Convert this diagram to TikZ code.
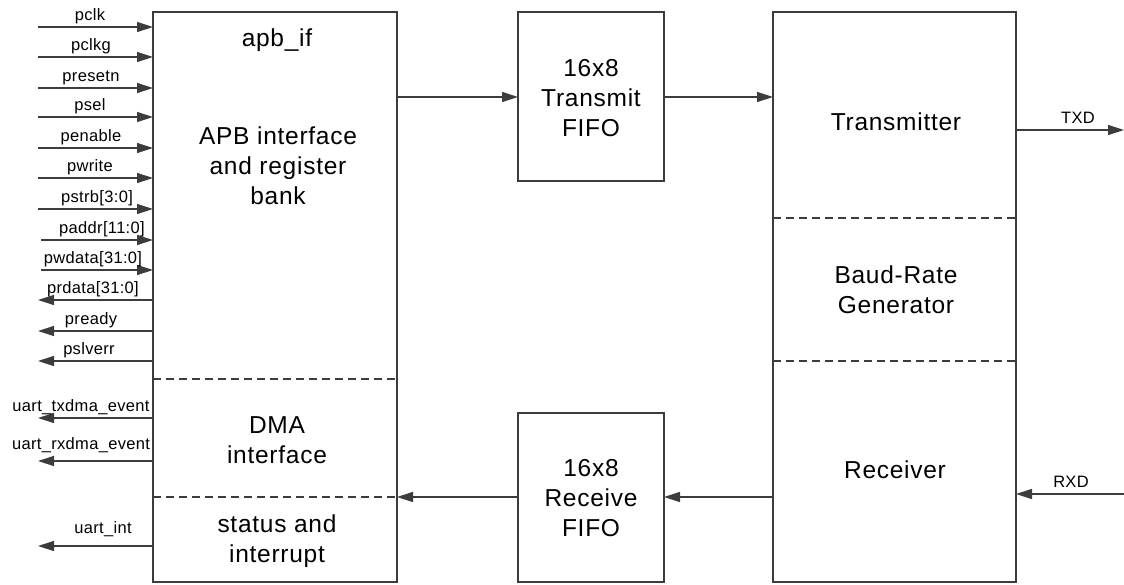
\documentclass[tikz,border=0pt]{standalone}
\usepackage{fontspec}
\setmainfont{Liberation Sans}
\newfontfamily\bigfont[LetterSpace=3]{Liberation Sans}
\newfontfamily\smallfont[LetterSpace=2]{Liberation Sans}
\usetikzlibrary{arrows.meta,calc}
\definecolor{ln}{HTML}{3C3C3C}
\begin{document}
\begin{tikzpicture}[x=1pt,y=-1pt,
  blk/.style={draw=ln,line width=1.1pt,fill=white,inner sep=0pt,outer sep=0pt},
  big/.style={align=center,font=\bigfont\fontsize{24.5}{30}\selectfont,inner sep=0pt},
  lbl/.style={font=\smallfont\fontsize{16.5}{18}\selectfont,inner sep=0pt},
  sig/.style={draw=ln,line width=1.3pt,-{Triangle[length=16pt,width=10pt]}},
  sep/.style={draw=ln,line width=1.1pt,dash pattern=on 8pt off 5pt}]
\useasboundingbox (0,0) rectangle (1124,584);
% blocks
\node[blk,minimum width=244pt,minimum height=570pt] (apb) at (275,297) {};
\node[blk,minimum width=146pt,minimum height=169pt] (txf) at (591,96.5) {};
\node[blk,minimum width=146pt,minimum height=169pt] (rxf) at (591,497.5) {};
\node[blk,minimum width=243pt,minimum height=570pt] (uart) at (894.5,297) {};
% separators
\coordinate (a1) at (153,379); \coordinate (a2) at (153,497);
\draw[sep] (a1) -- (a1 -| apb.east);
\draw[sep] (a2) -- (a2 -| apb.east);
\coordinate (u1) at (773,218); \coordinate (u2) at (773,361);
\draw[sep] (u1) -- (u1 -| uart.east);
\draw[sep] (u2) -- (u2 -| uart.east);
% texts
\node[big] (t1) at (277,40) {apb\_if};
\node[big] (t2) at (278,166) {APB interface\\and register\\bank};
\node[big] (t3) at (277,440) {DMA\\interface};
\node[big] (t4) at (277,541) {status and\\interrupt};
\node[big] (t5) at (591,98) {16x8\\Transmit\\FIFO};
\node[big] (t6) at (591,498) {16x8\\Receive\\FIFO};
\node[big] (t7) at (896,122) {Transmitter};
\node[big] (t8) at (896,290) {Baud-Rate\\Generator};
\node[big] (t9) at (895,470) {Receiver};
% internal connections
\coordinate (c1) at (397,97);
\draw[sig] (c1) -- (c1 -| txf.west);
\draw[sig] (txf.east |- c1) -- (c1 -| uart.west);
\coordinate (c2) at (773,497);
\draw[sig] (c2) -- (c2 -| rxf.east);
\draw[sig] (rxf.west |- c2) -- (c2 -| apb.east);
% TXD / RXD
\coordinate (txd) at (1124,130);
\draw[sig] (txd -| uart.east) -- (txd);
\node[lbl,anchor=base] (txdl) at (1078,123) {TXD};
\coordinate (rxd) at (1124,494);
\draw[sig] (rxd) -- (rxd -| uart.east);
\node[lbl,anchor=base] (rxdl) at (1071,487) {RXD};
% inputs
\foreach \n/\y/\sx/\lx/\t in {pclk/27/38/90/pclk, pclkg/57/38/91/pclkg, presetn/88/38/91/presetn,
  psel/117/38/90/psel, penable/148/38/91/penable, pwrite/178/38/90/pwrite,
  pstrb/209/38/97/{pstrb[3:0]}, paddr/240/41/102/{paddr[11:0]}, pwdata/270/41/93/{pwdata[31:0]}}{
  \coordinate (\n) at (\sx,\y);
  \draw[sig] (\n) -- (\n -| apb.west);
  \node[lbl,anchor=base] (\n-l) at (\lx,\y-7) {\t};
}
% outputs
\foreach \n/\y/\lx/\by/\t in {prdata/300/93/293/{prdata[31:0]}, pready/331/91/324/pready,
  pslverr/361/89/354/pslverr, txdma/418/81/411/{uart\_txdma\_event},
  rxdma/461/81/449/{uart\_rxdma\_event}, uint/546/103/533/{uart\_int}}{
  \coordinate (\n) at (38,\y);
  \draw[sig] (\n -| apb.west) -- (\n);
  \node[lbl,anchor=base] (\n-l) at (\lx,\by) {\t};
}
\end{tikzpicture}
\end{document}
